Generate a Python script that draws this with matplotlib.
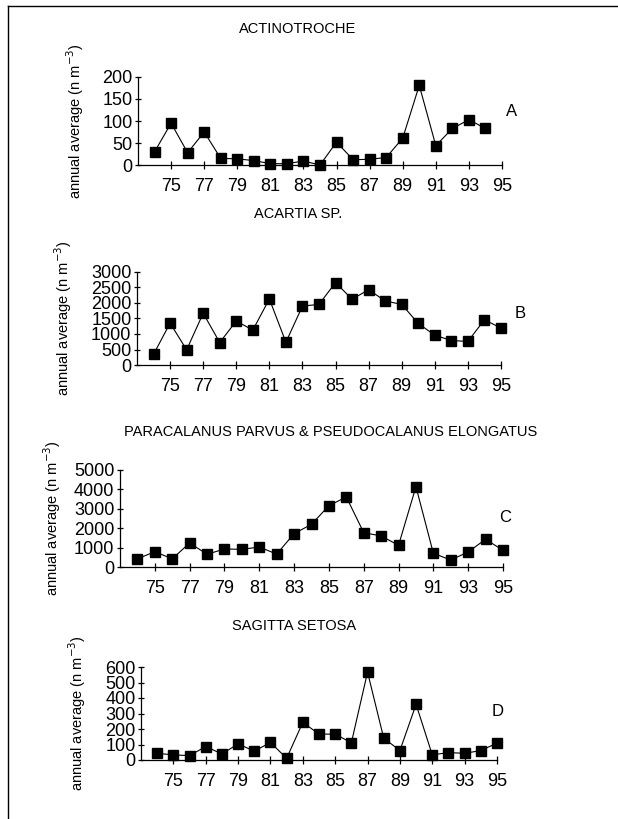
import matplotlib
matplotlib.use("Agg")
import matplotlib.pyplot as plt
from matplotlib.lines import Line2D
from matplotlib import font_manager

# ---------------- data ----------------
years_a = [74, 75, 76, 77, 78, 79, 80, 81, 82, 83, 84, 85, 86, 87, 88, 89, 90, 91, 92, 93, 94]
actinotroche = [30, 95, 28, 75, 15, 14, 10, 3, 3, 9, 0, 52, 12, 13, 17, 61, 181, 44, 83, 103, 83]

years_b = [74, 75, 76, 77, 78, 79, 80, 81, 82, 83, 84, 85, 86, 87, 88, 89, 90, 91, 92, 93, 94, 95]
acartia = [345, 1350, 490, 1670, 725, 1420, 1125, 2130, 735, 1900, 1955, 2660, 2120, 2430,
           2065, 1955, 1340, 960, 790, 760, 1460, 1190]

years_c = [74, 75, 76, 77, 78, 79, 80, 81, 82, 83, 84, 85, 86, 87, 88, 89, 90, 91, 92, 93, 94, 95]
paracalanus = [420, 790, 420, 1240, 655, 930, 910, 1030, 665, 1720, 2200, 3160, 3610, 1770,
               1600, 1120, 4140, 705, 360, 775, 1430, 860]

years_d = [74, 75, 76, 77, 78, 79, 80, 81, 82, 83, 84, 85, 86, 87, 88, 89, 90, 91, 92, 93, 94, 95]
sagitta = [43, 33, 28, 87, 39, 104, 57, 113, 11, 243, 167, 167, 111, 567, 141, 61, 359, 33,
           48, 43, 61, 109]

titles = ["ACTINOTROCHE", "ACARTIA SP.", "PARACALANUS PARVUS & PSEUDOCALANUS ELONGATUS",
          "SAGITTA SETOSA"]
letters = ["A", "B", "C", "D"]
xticks = [75, 77, 79, 81, 83, 85, 87, 89, 91, 93, 95]
yticks_a = [0, 50, 100, 150, 200]
yticks_b = [0, 500, 1000, 1500, 2000, 2500, 3000]
yticks_c = [0, 1000, 2000, 3000, 4000, 5000]
yticks_d = [0, 100, 200, 300, 400, 500, 600]
ylabel = "annual average (n m$^{-3}$)"

# ---------------- fonts ----------------
names = {f.name for f in font_manager.fontManager.ttflist}
tick_font = "Liberation Sans" if "Liberation Sans" in names else "DejaVu Sans"
narrow_font = "Liberation Sans Narrow" if "Liberation Sans Narrow" in names else tick_font

W, H = 618, 819
fig = plt.figure(figsize=(W / 100, H / 100), dpi=100)
fig.patch.set_facecolor("white")


def fx(x):
    return x / W


def fy(y):
    return 1 - y / H


# axes geometry in pixels: left, right, top, bottom
panels = [
    dict(years=years_a, vals=actinotroche, yticks=yticks_a, box=(138, 502, 77, 165),
         title_xy=(298, 29), letter_xy=(512, 112), ylab_x=86),
    dict(years=years_b, vals=acartia, yticks=yticks_b, box=(137, 501, 272, 365),
         title_xy=(298, 214), letter_xy=(520, 314), ylab_x=74),
    dict(years=years_c, vals=paracalanus, yticks=yticks_c, box=(120, 503, 470, 567),
         title_xy=(331, 432), letter_xy=(505, 517), ylab_x=63),
    dict(years=years_d, vals=sagitta, yticks=yticks_d, box=(141, 497, 667, 760),
         title_xy=(294, 626), letter_xy=(498, 712), ylab_x=88),
]

for i, p in enumerate(panels):
    l, r, t, b = p["box"]
    ax = fig.add_axes([fx(l), fy(b), (r - l) / W, (b - t) / H])
    ax.plot(p["years"], p["vals"], color="black", lw=0.8, marker="s", ms=7.2,
            mfc="black", mec="black", clip_on=False, zorder=3)
    ax.set_xlim(73, 95)
    ax.set_ylim(p["yticks"][0], p["yticks"][-1])
    ax.set_xticks(xticks)
    ax.set_xticklabels([str(v) for v in xticks])
    ax.set_yticks(p["yticks"])
    ax.set_yticklabels([str(v) for v in p["yticks"]])
    for s in ["top", "right"]:
        ax.spines[s].set_visible(False)
    for s in ["left", "bottom"]:
        ax.spines[s].set_linewidth(0.9)
    ax.tick_params(axis="x", direction="inout", length=5.5, width=0.9, pad=6.5,
                   labelsize=13)
    ax.tick_params(axis="y", direction="inout", length=5, width=0.9, pad=1.5,
                   labelsize=13)
    for lab in ax.get_xticklabels() + ax.get_yticklabels():
        lab.set_fontfamily(tick_font)
    ax.set_ylabel(ylabel, fontsize=10.5, family=narrow_font, labelpad=0)
    ax.yaxis.set_label_coords((p["ylab_x"] - l) / (r - l), 0.5)
    ax.patch.set_alpha(0)

    fig.text(fx(p["title_xy"][0]), fy(p["title_xy"][1]), titles[i], ha="center",
             va="center", fontsize=10.5, family=narrow_font)
    fig.text(fx(p["letter_xy"][0]), fy(p["letter_xy"][1]), letters[i], ha="center",
             va="center", fontsize=12, family=tick_font)

# page frame lines (top and left)
fig.add_artist(Line2D([fx(8), fx(618)], [fy(6), fy(6)], color="black", lw=1.0))
fig.add_artist(Line2D([fx(8), fx(8)], [fy(6), fy(819)], color="black", lw=1.0))

fig.savefig("out.png", dpi=100)
